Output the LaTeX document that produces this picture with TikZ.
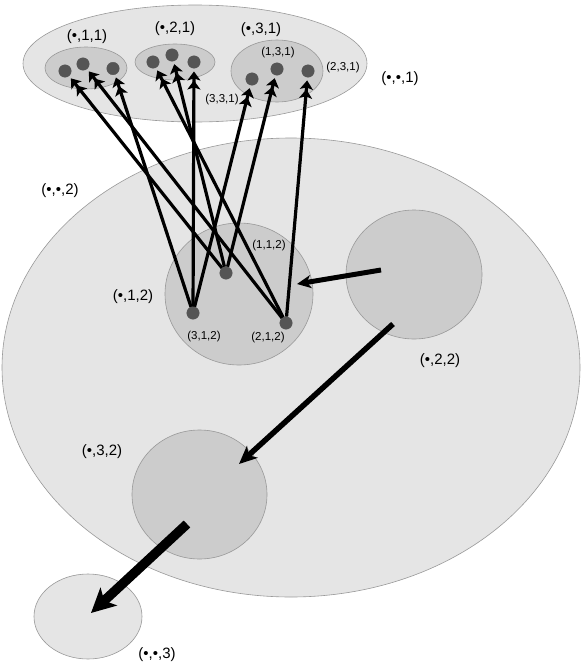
\documentclass[tikz,border=0pt]{standalone}
\usepackage{fontspec}
\setmainfont{Liberation Sans}
\usetikzlibrary{shapes.geometric,arrows.meta}
\definecolor{lightfill}{HTML}{E5E5E5}
\definecolor{midfill}{HTML}{CCCCCC}
\definecolor{dotfill}{HTML}{555555}
\definecolor{edgegray}{HTML}{999999}
\begin{document}
\begin{tikzpicture}[x=1pt,y=-1pt,
  region/.style={ellipse,draw=edgegray,line width=0.6pt,fill=lightfill,inner sep=0pt},
  subregion/.style={ellipse,draw=edgegray,line width=0.6pt,fill=midfill,inner sep=0pt},
  pt/.style={circle,fill=dotfill,draw=dotfill,inner sep=0pt,minimum size=12.5pt},
  biglabel/.style={font=\fontsize{15}{17}\selectfont,inner sep=0pt},
  smalllabel/.style={font=\fontsize{11.5}{13}\selectfont,inner sep=0pt},
  thinarrow/.style={line width=3.2pt,-{Stealth[length=9pt,width=13pt,inset=2pt]Stealth[length=9pt,width=13pt,inset=2pt]},shorten >=3pt},
]
\useasboundingbox (0,0) rectangle (581,672);
% big regions
\node[region,minimum width=344pt,minimum height=117pt] (e1) at (195,63.5) {};
\node[region,minimum width=578pt,minimum height=459pt] (e2) at (291,367.5) {};
\node[region,minimum width=108pt,minimum height=85pt] (e3) at (88,616.5) {};
% subregions
\node[subregion,minimum width=82pt,minimum height=42pt] (c11) at (86,68) {};
\node[subregion,minimum width=80pt,minimum height=36pt] (c21) at (175,62) {};
\node[subregion,minimum width=92pt,minimum height=62pt] (c31) at (277,71) {};
\node[subregion,minimum width=148pt,minimum height=142pt] (c12) at (239,294) {};
\node[subregion,minimum width=136pt,minimum height=129pt] (c22) at (414,274.5) {};
\node[subregion,minimum width=135pt,minimum height=129pt] (c32) at (199.5,494.5) {};
% dots
\node[pt] (A1) at (65,71) {};
\node[pt] (A2) at (83,64) {};
\node[pt] (A3) at (113,68.5) {};
\node[pt] (B1) at (153,62) {};
\node[pt] (B2) at (172,55) {};
\node[pt] (B3) at (194,62) {};
\node[pt] (C1) at (252,79) {};
\node[pt] (C2) at (277,69) {};
\node[pt] (C3) at (308,71) {};
\node[pt] (P) at (226,273) {};
\node[pt] (Q) at (193,313) {};
\node[pt] (R) at (286,323) {};
% labels
\node[biglabel] (l11) at (87,37) {(•,1,1)};
\node[biglabel] (l21) at (175,29) {(•,2,1)};
\node[biglabel] (l31) at (261,30) {(•,3,1)};
\node[biglabel] (le1) at (400,79) {(•,•,1)};
\node[smalllabel] (l131) at (278,53) {(1,3,1)};
\node[smalllabel] (l231) at (343,68) {(2,3,1)};
\node[smalllabel] (l331) at (222,100) {(3,3,1)};
\node[biglabel] (le2) at (60,191) {(•,•,2)};
\node[biglabel] (l12) at (133,297) {(•,1,2)};
\node[smalllabel] (l112) at (269,246) {(1,1,2)};
\node[smalllabel] (l312) at (204,337) {(3,1,2)};
\node[smalllabel] (l212) at (268,338) {(2,1,2)};
\node[biglabel] (l22) at (440,361) {(•,2,2)};
\node[biglabel] (l32) at (102,452) {(•,3,2)};
\node[biglabel] (le3) at (157,655) {(•,•,3)};
% thin arrows
\draw[thinarrow] (P) -- (A1);
\draw[thinarrow] (P) -- (B2);
\draw[thinarrow] (P) -- (C2);
\draw[thinarrow] (Q) -- (A3);
\draw[thinarrow] (Q) -- (B3);
\draw[thinarrow] (Q) -- (C1);
\draw[thinarrow] (R) -- (A2);
\draw[thinarrow] (R) -- (B1);
\draw[thinarrow] (R) -- (C3);
% thick arrows
\coordinate (t1) at (381,270);
\coordinate (h1) at (297,284);
\coordinate (t2) at (393,324);
\coordinate (h2) at (239,464);
\coordinate (t3) at (187,524);
\coordinate (h3) at (91,613);
\draw[line width=5pt,-{Stealth[length=14pt,width=13pt,inset=4pt]}] (t1) -- (h1);
\draw[line width=5.5pt,-{Stealth[length=18pt,width=16pt,inset=5pt]}] (t2) -- (h2);
\draw[line width=9.5pt,-{Stealth[length=24pt,width=24pt,inset=6pt]}] (t3) -- (h3);
\end{tikzpicture}
\end{document}
